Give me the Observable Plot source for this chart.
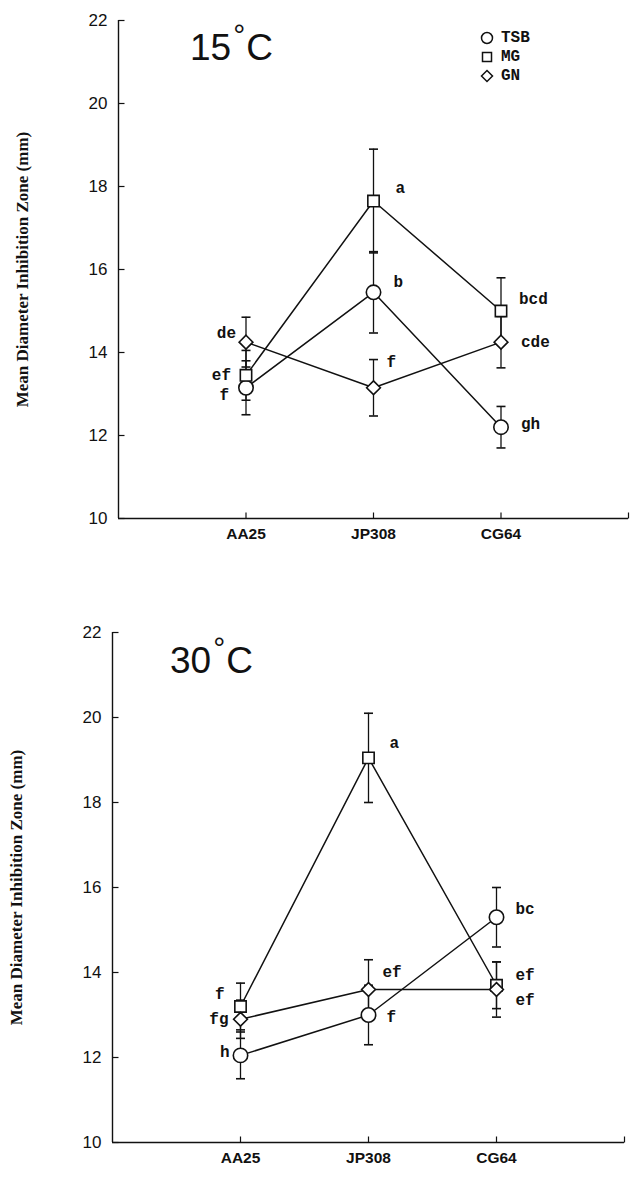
<!DOCTYPE html>
<html><head><meta charset="utf-8">
<script src="https://cdn.jsdelivr.net/npm/d3@7"></script>
<script src="https://cdn.jsdelivr.net/npm/@observablehq/plot@0.6"></script>
<style>
body{margin:0;background:#fff;}
#wrap{position:relative;width:639px;height:1179px;overflow:hidden;}
.panel{position:absolute;left:0;}
.title{position:absolute;font-family:"Liberation Sans",Arial,sans-serif;font-size:37px;color:#111;line-height:1;}
.title .deg{font-size:30px;position:relative;top:-15px;margin:0 1px 0 2px;}
.legend{position:absolute;font-family:"Liberation Mono",monospace;font-size:16px;font-weight:bold;color:#111;}
.legend div{height:19px;display:flex;align-items:center;}
.legend svg{margin-right:6px;}
</style></head><body><div id="wrap"></div>
<script>
// ---- data ----
const strains = ["AA25", "JP308", "CG64"];
const media = ["TSB", "MG", "GN"];
const temps = ["15°C", "30°C"];
const yTicks = [10, 12, 14, 16, 18, 20, 22];
const yTitle = "Mean Diameter Inhibition Zone (mm)";

// 15 °C
const tsb15 = [13.15, 15.45, 12.2];
const tsb15Err = [0.65, 0.98, 0.5];
const tsb15Grp = ["f", "b", "gh"];
const mg15 = [13.45, 17.65, 15.0];
const mg15Err = [0.6, 1.25, 0.8];
const mg15Grp = ["ef", "a", "bcd"];
const gn15 = [14.25, 13.15, 14.25];
const gn15Err = [0.6, 0.68, 0.62];
const gn15Grp = ["de", "f", "cde"];

// 30 °C
const tsb30 = [12.05, 13.0, 15.3];
const tsb30Err = [0.55, 0.7, 0.7];
const tsb30Grp = ["h", "f", "bc"];
const mg30 = [13.2, 19.05, 13.7];
const mg30Err = [0.55, 1.05, 0.55];
const mg30Grp = ["f", "a", "ef"];
const gn30 = [12.9, 13.6, 13.6];
const gn30Err = [0.45, 0.7, 0.65];
const gn30Grp = ["fg", "ef", "ef"];

// ---- label placement (style, px offsets) ----
const labelOffsets = {
  "15°C": {TSB: [[-17, 7], [20, -10], [20, -3]], MG: [[-15, 0], [22, -13], [18, -12]], GN: [[-10, -9], [13, -26], [20, 0]]},
  "30°C": {TSB: [[-11, -4], [18, 2], [19, -8]], MG: [[-16, -13], [21, -15], [19, -10]], GN: [[-12, 0], [14, -18], [19, 10]]}
};

const series = {
  "15°C": {TSB: [tsb15, tsb15Err, tsb15Grp], MG: [mg15, mg15Err, mg15Grp], GN: [gn15, gn15Err, gn15Grp]},
  "30°C": {TSB: [tsb30, tsb30Err, tsb30Grp], MG: [mg30, mg30Err, mg30Grp], GN: [gn30, gn30Err, gn30Grp]}
};

function rowsFor(temp) {
  const rows = [];
  for (const m of media) {
    const [vals, errs, grps] = series[temp][m];
    strains.forEach((s, i) => rows.push({temp, series: m, strain: s, i: i + 1, v: vals[i], lo: vals[i] - errs[i], hi: vals[i] + errs[i], grp: grps[i]}));
  }
  return rows;
}

const symbolOf = {TSB: "circle", MG: "square", GN: "diamond2"};
const rOf = {TSB: 7.2, MG: 6.4, GN: 6.2};

const capSym = {draw(ctx) { ctx.moveTo(-4.5, 0); ctx.lineTo(4.5, 0); }};
const yTickSym = {draw(ctx) { ctx.moveTo(0, 0); ctx.lineTo(6, 0); }};
const xTickSym = {draw(ctx) { ctx.moveTo(0, 0); ctx.lineTo(0, -6); }};

const layouts = [
  {top: 0, height: 580, marginLeft: 118, marginRight: 11, marginTop: 20, marginBottom: 62, title: {left: 190, top: 29}},
  {top: 580, height: 599, marginLeft: 112, marginRight: 15, marginTop: 52, marginBottom: 37, title: {left: 170, top: 62}}
];

const wrap = document.getElementById("wrap");

temps.forEach((temp, k) => {
  const L = layouts[k];
  const rows = rowsFor(temp);
  const caps = rows.flatMap(d => [{i: d.i, y: d.lo}, {i: d.i, y: d.hi}]);
  const marks = [
    Plot.ruleX([0], {stroke: "#111", strokeWidth: 1.4}),
    Plot.ruleY([10], {stroke: "#111", strokeWidth: 1.4}),
    Plot.dot(yTicks, {x: 0, y: d => d, symbol: yTickSym, stroke: "#111", fill: "none", strokeWidth: 1.2}),
    Plot.dot([1, 2, 3, 4], {x: d => d, y: 10, symbol: xTickSym, stroke: "#111", fill: "none", strokeWidth: 1.2}),
    Plot.axisY({ticks: yTicks, tickSize: 0, tickPadding: 11, fontSize: 17, fontFamily: "Liberation Sans, Arial, sans-serif", label: null}),
    Plot.axisX({ticks: [1, 2, 3], tickFormat: i => strains[i - 1], tickSize: 0, tickPadding: 9, fontSize: 15.5, fontWeight: "bold", fontFamily: "Liberation Sans, Arial, sans-serif", label: null}),
    Plot.text([yTitle], {frameAnchor: "left", textAnchor: "middle", rotate: -90, dx: -96, fontSize: 17, fontWeight: "bold", fontFamily: "Liberation Serif, serif", fill: "#111"}),
    Plot.ruleX(rows, {x: "i", y1: "lo", y2: "hi", stroke: "#111", strokeWidth: 1.3}),
    Plot.dot(caps, {x: "i", y: "y", symbol: capSym, stroke: "#111", fill: "none", strokeWidth: 1.6}),
    Plot.line(rows, {x: "i", y: "v", z: "series", stroke: "#111", strokeWidth: 1.5}),
    ...media.map(m => Plot.dot(rows.filter(d => d.series === m), {x: "i", y: "v", symbol: symbolOf[m], r: rOf[m], fill: "white", stroke: "#111", strokeWidth: 1.6})),
    ...rows.map(d => {
      const [dx, dy] = labelOffsets[temp][d.series][d.i - 1];
      return Plot.text([d], {x: "i", y: "v", text: "grp", dx, dy, textAnchor: dx < 0 ? "end" : "start", fontSize: 16, fontWeight: "bold", fontFamily: "Liberation Mono, monospace", fill: "#111"});
    })
  ];
  const chart = Plot.plot({
    width: 639, height: L.height,
    marginLeft: L.marginLeft, marginRight: L.marginRight, marginTop: L.marginTop, marginBottom: L.marginBottom,
    x: {type: "linear", domain: [0, 4], axis: null},
    y: {domain: [10, 22], axis: null},
    style: {background: "white", color: "#111"},
    marks
  });
  const panel = document.createElement("div");
  panel.className = "panel";
  panel.style.top = L.top + "px";
  panel.appendChild(chart);
  const t = document.createElement("div");
  t.className = "title";
  t.style.left = L.title.left + "px";
  t.style.top = L.title.top + "px";
  const [num, unit] = temp.split("°");
  t.innerHTML = num + '<span class="deg">°</span>' + unit;
  panel.appendChild(t);
  wrap.appendChild(panel);
});

// legend (top panel)
const legend = document.createElement("div");
legend.className = "legend";
legend.style.left = "479px";
legend.style.top = "28px";
const icons = {
  TSB: '<svg width="16" height="16"><circle cx="8" cy="8" r="5.5" fill="white" stroke="#111" stroke-width="1.5"/></svg>',
  MG: '<svg width="16" height="16"><rect x="3.5" y="3.5" width="9" height="9" fill="white" stroke="#111" stroke-width="1.5"/></svg>',
  GN: '<svg width="16" height="16"><path d="M8,2.5L13.5,8L8,13.5L2.5,8Z" fill="white" stroke="#111" stroke-width="1.5"/></svg>'
};
legend.innerHTML = media.map(m => `<div>${icons[m]}<span>${m}</span></div>`).join("");
wrap.appendChild(legend);
</script>
</body></html>
